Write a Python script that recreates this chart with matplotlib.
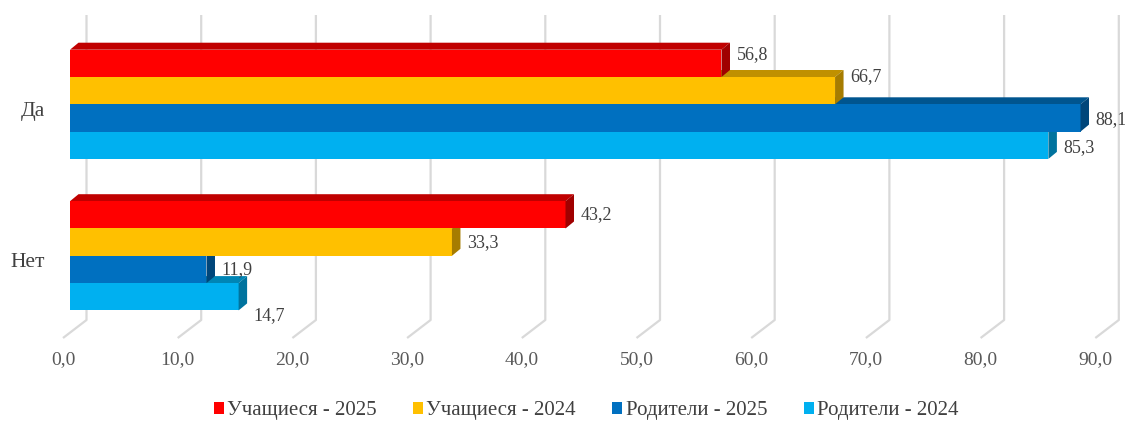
import matplotlib.pyplot as plt
from matplotlib.patches import Polygon, Patch

# data
categories = ["Да", "Нет"]
series = ["Учащиеся - 2025", "Учащиеся - 2024", "Родители - 2025", "Родители - 2024"]
students_2025 = [56.8, 43.2]
students_2024 = [66.7, 33.3]
parents_2025 = [88.1, 11.9]
parents_2024 = [85.3, 14.7]
ticks = [0, 10, 20, 30, 40, 50, 60, 70, 80, 90]

values = [students_2025, students_2024, parents_2025, parents_2024]
front = ["#FF0000", "#FFC000", "#0070C0", "#00B0F0"]
top = ["#C00000", "#C09000", "#00558F", "#0085B5"]
side = ["#A00000", "#A67C00", "#00467A", "#00739E"]
# label nudges in pixels (excel 3d label placement)
nudge = [[-9, 0], [-14, 0], [2, 0], [2, 19]]

plt.rcParams["font.family"] = ["Liberation Serif", "DejaVu Serif"]
W, H = 1125, 421
fig = plt.figure(figsize=(W / 100, H / 100), dpi=100)
ax = fig.add_axes([0, 0, 1, 1])
ax.axis("off")

# pixel geometry of the original
PX = 11.47      # px per unit of value
X0 = 70         # px of zero on bar front face
Y0 = 104.3      # px of first group centre
BH = 27.3       # px bar thickness
ax.set_xlim(-X0 / PX, (W - X0) / PX)
ax.set_ylim((H - Y0) / BH, -Y0 / BH)


def ux(px):
    return px / PX


def uy(pix):
    return (pix - Y0) / BH


group_pos = [0, 151.5 / BH]
ddx, ddy = ux(8.5), -7 / BH

# back wall gridlines + floor
for t in ticks:
    xb = t + ux(16.5)
    xf = t - ux(7)
    ax.plot([xb, xb, xf], [uy(15), uy(320), uy(338)], color="#D9D9D9", lw=1.6,
            zorder=1, solid_capstyle="butt")
    ax.text(xf, uy(360), f"{t:.1f}".replace(".", ","), ha="center", va="center",
            fontsize=14, color="#595959")

for g, cat in zip(group_pos, categories):
    ax.text(ux(-25), g + 7 / BH, cat, ha="right", va="center", fontsize=15.5, color="#404040")

# bars, bottom one first so upper bars cover the top faces below them
for i in reversed(range(4)):
    ys = [g + (i - 1.5) for g in group_pos]
    for yc, v, dn in zip(ys, values[i], nudge[i]):
        yt = yc - 0.5
        ax.add_patch(Polygon([(0, yt), (v, yt), (v + ddx, yt + ddy), (ddx, yt + ddy)],
                             closed=True, facecolor=top[i], edgecolor="none", zorder=2))
        ax.barh(yc, v, height=1, left=0, color=front[i], zorder=2)
        ax.add_patch(Polygon([(v, yt), (v, yt + 1), (v + ddx, yt + 1 + ddy), (v + ddx, yt + ddy)],
                             closed=True, facecolor=side[i], edgecolor="none", zorder=2))
        ax.text(v + ux(15), yc + dn / BH, f"{v:.1f}".replace(".", ","), ha="left",
                va="center", fontsize=13, color="#404040", zorder=5)

handles = [Patch(facecolor=c, edgecolor="none") for c in front]
fig.legend(handles, series, loc="center", bbox_to_anchor=(0.521, 1 - 411 / H), ncol=4,
           frameon=False, handlelength=0.48, handleheight=0.48, handletextpad=0.15,
           columnspacing=1.75, fontsize=15, labelcolor="#404040")

fig.savefig("out.png", dpi=100)
